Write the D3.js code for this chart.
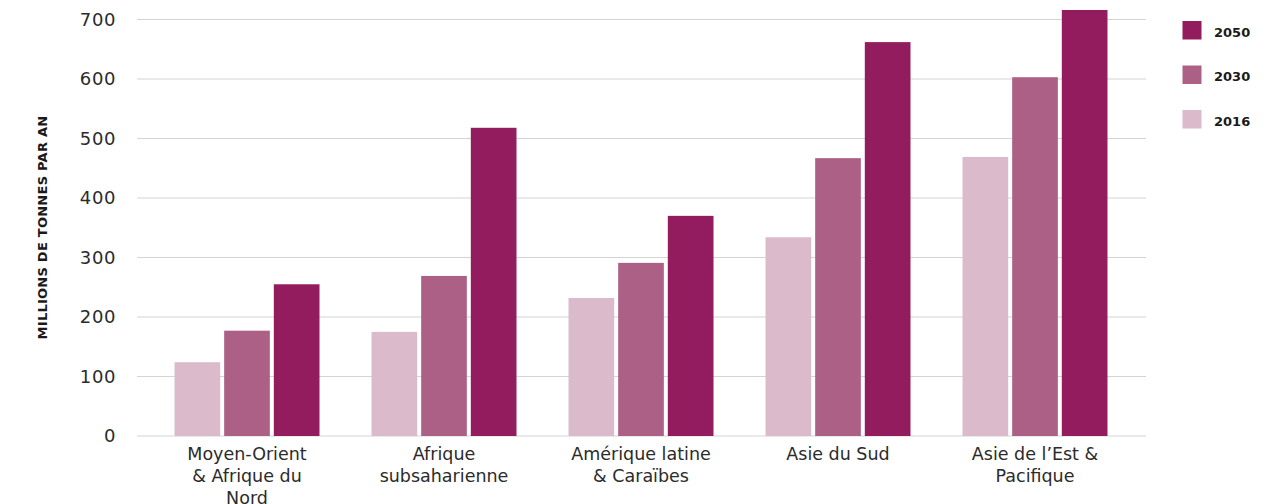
<!DOCTYPE html>
<html>
<head>
<meta charset="utf-8">
<script src="https://cdn.jsdelivr.net/npm/d3@7"></script>
<style>
  html, body { margin: 0; padding: 0; background: #fff; }
  svg { display: block; }
  text { font-family: "DejaVu Sans", "Noto Sans", sans-serif; }
</style>
</head>
<body>
<svg id="chart" width="1281" height="504"></svg>
<script>
// Regions (x-axis categories, with line breaks as drawn)
const regions = [
  ["Moyen-Orient", "& Afrique du", "Nord"],
  ["Afrique", "subsaharienne"],
  ["Amérique latine", "& Caraïbes"],
  ["Asie du Sud"],
  ["Asie de l’Est &", "Pacifique"]
];
const years = ["2016", "2030", "2050"];
// Waste generated, millions of tonnes per year
const values2016 = [124, 175, 232, 334, 469];
const values2030 = [177, 269, 291, 467, 603];
const values2050 = [255, 518, 370, 662, 716];
const yTicks = [0, 100, 200, 300, 400, 500, 600, 700];
const legendOrder = ["2050", "2030", "2016"];

const seriesByYear = { "2016": values2016, "2030": values2030, "2050": values2050 };
const colors = { "2016": "#dbbacb", "2030": "#ad6086", "2050": "#931c5f" };

const svg = d3.select("#chart");

const y = d3.scaleLinear().domain([0, 700]).range([436, 19.5]);
const x0 = d3.scaleBand()
  .domain(d3.range(regions.length))
  .range([148.5, 1133.5])
  .paddingInner(0.264)
  .paddingOuter(0.132);
const x1 = d3.scaleBand()
  .domain(years)
  .range([0, x0.bandwidth()])
  .paddingInner(0.08);

// Horizontal grid lines
svg.append("g")
  .selectAll("line")
  .data(yTicks)
  .join("line")
  .attr("x1", 137).attr("x2", 1146)
  .attr("y1", d => y(d)).attr("y2", d => y(d))
  .attr("stroke", "#d4d4d4")
  .attr("stroke-width", 1.2);

// Y tick labels
svg.append("g")
  .selectAll("text")
  .data(yTicks)
  .join("text")
  .attr("x", 116)
  .attr("y", d => y(d))
  .attr("dy", "0.36em")
  .attr("text-anchor", "end")
  .attr("font-size", 18)
  .attr("letter-spacing", 0.6)
  .attr("fill", "#2b2b2b")
  .text(d => d);

// Y axis title
svg.append("text")
  .attr("transform", "translate(46.5,227.5) rotate(-90)")
  .attr("text-anchor", "middle")
  .attr("font-size", 13)
  .attr("font-weight", 700)
  .attr("letter-spacing", 0.25)
  .attr("fill", "#1a1a1a")
  .text("MILLIONS DE TONNES PAR AN");

// Bars
const groups = svg.append("g")
  .selectAll("g")
  .data(regions.map((r, i) => i))
  .join("g")
  .attr("transform", i => `translate(${x0(i)},0)`);

groups.selectAll("rect")
  .data(i => years.map(yr => ({ yr, v: seriesByYear[yr][i] })))
  .join("rect")
  .attr("x", d => x1(d.yr))
  .attr("width", x1.bandwidth())
  .attr("y", d => y(d.v))
  .attr("height", d => y(0) - y(d.v))
  .attr("fill", d => colors[d.yr]);

// X category labels
const xl = svg.append("g")
  .selectAll("text")
  .data(regions)
  .join("text")
  .attr("x", (d, i) => x0(i) + x0.bandwidth() / 2)
  .attr("y", 460)
  .attr("text-anchor", "middle")
  .attr("font-size", 17.5)
  .attr("fill", "#2b2b2b");
xl.selectAll("tspan")
  .data(d => d)
  .join("tspan")
  .attr("x", function () { return d3.select(this.parentNode).attr("x"); })
  .attr("dy", (d, j) => j === 0 ? 0 : 22)
  .text(d => d);

// Legend
const legend = svg.append("g")
  .selectAll("g")
  .data(legendOrder)
  .join("g")
  .attr("transform", (d, i) => `translate(1182.5,${21 + i * 44.5})`);
legend.append("rect")
  .attr("width", 19).attr("height", 18.5)
  .attr("fill", d => colors[d]);
legend.append("text")
  .attr("x", 31.5).attr("y", 15.5)
  .attr("font-size", 13)
  .attr("font-weight", 700)
  .attr("fill", "#1a1a1a")
  .text(d => d);
</script>
</body>
</html>
